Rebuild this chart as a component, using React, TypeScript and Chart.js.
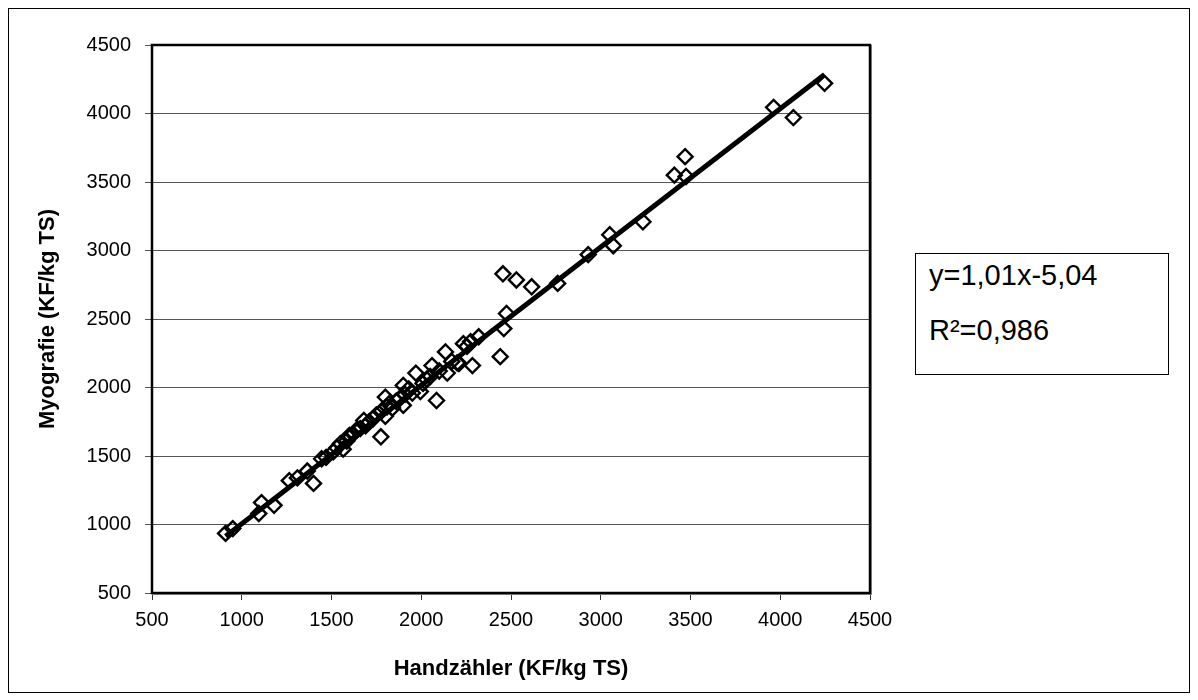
import React, { useEffect, useRef } from "react";
import { Chart, registerables } from "chart.js";

Chart.register(...registerables);

// Hand counter reading (x) and myography reading (y), KF/kg TS
const handzaehler = [
  910, 950, 1095, 1110, 1180, 1265, 1310, 1365, 1400, 1445,
  1470, 1510, 1530, 1550, 1565, 1585, 1600, 1620, 1640, 1660,
  1680, 1690, 1710, 1730, 1750, 1775, 1780, 1800, 1800, 1810,
  1820, 1840, 1860, 1880, 1900, 1900, 1910, 1930, 1950, 1970,
  1995, 2010, 2030, 2050, 2060, 2085, 2100, 2135, 2145, 2170,
  2200, 2210, 2235, 2255, 2275, 2285, 2320, 2440, 2455, 2460,
  2475, 2530, 2615, 2760, 2930, 3050, 3070, 3235, 3410, 3470,
  3475, 3963, 4073, 4247,
];
const myografie = [
  935, 970, 1080, 1160, 1140, 1320, 1340, 1390, 1300, 1480,
  1490, 1530, 1560, 1590, 1550, 1610, 1650, 1660, 1690, 1700,
  1760, 1720, 1750, 1770, 1800, 1640, 1830, 1790, 1930, 1860,
  1880, 1850, 1900, 1920, 2015, 1870, 1950, 1990, 1960, 2105,
  1970, 2030, 2060, 2080, 2160, 1905, 2120, 2260, 2105, 2190,
  2180, 2175, 2320, 2300, 2335, 2160, 2370, 2225, 2830, 2430,
  2540, 2785, 2735, 2760, 2970, 3115, 3035, 3210, 3550, 3685,
  3540, 4045, 3970, 4220,
];

// Linear regression as printed in the equation box
const SLOPE = 1.01;
const INTERCEPT = -5.04;
const R_SQUARED = "0,986";
const SLOPE_TEXT = "1,01";
const INTERCEPT_TEXT = "5,04";

const AXIS_MIN = 500;
const AXIS_MAX = 4500;
const AXIS_STEP = 500;

const X_TITLE = "Handzähler (KF/kg TS)";
const Y_TITLE = "Myografie (KF/kg TS)";

const FONT = "Arial, 'Liberation Sans', Helvetica, sans-serif";

const plainTick = (value: any) => String(value);

const plotFrame = {
  id: "plotFrame",
  afterDatasetsDraw(chart: any) {
    const { ctx, chartArea } = chart;
    const { left, top, right, bottom } = chartArea;
    ctx.save();
    // light shadow line just outside the frame
    ctx.strokeStyle = "#9a9a9a";
    ctx.lineWidth = 1;
    ctx.strokeRect(left + 0.5, top + 0.5, right - left + 1, bottom - top + 1);
    ctx.strokeStyle = "#000";
    ctx.lineWidth = 2.5;
    ctx.strokeRect(left, top, right - left, bottom - top);
    ctx.restore();
  },
};

export default function App() {
  const canvasRef = useRef<HTMLCanvasElement | null>(null);

  useEffect(() => {
    const canvas = canvasRef.current;
    if (!canvas) return;

    const points = handzaehler.map((x, i) => ({ x, y: myografie[i] }));
    const xMin = Math.min(...handzaehler);
    const xMax = Math.max(...handzaehler);
    const trend = [
      { x: xMin, y: SLOPE * xMin + INTERCEPT },
      { x: xMax, y: SLOPE * xMax + INTERCEPT },
    ];

    const chart = new Chart(canvas, {
      type: "scatter",
      data: {
        datasets: [
          {
            type: "line",
            label: "Trend",
            data: trend,
            borderColor: "#000",
            borderWidth: 5,
            pointRadius: 0,
            fill: false,
            order: 1,
          } as any,
          {
            label: "Messwerte",
            data: points,
            pointStyle: "rectRot",
            pointRadius: 7.5,
            pointBorderWidth: 2.4,
            pointBorderColor: "#000",
            pointBackgroundColor: "rgba(255,255,255,0)",
            order: 2,
          } as any,
        ],
      },
      options: {
        animation: false,
        responsive: false,
        devicePixelRatio: 1,
        layout: { padding: { left: 0, top: 37, right: 320, bottom: 5 } },
        plugins: {
          legend: { display: false },
          tooltip: { enabled: false },
        },
        scales: {
          x: {
            type: "linear",
            min: AXIS_MIN,
            max: AXIS_MAX,
            afterFit: (scale: any) => {
              scale.height = 95;
            },
            ticks: {
              stepSize: AXIS_STEP,
              color: "#000",
              font: { family: FONT, size: 20 },
              padding: 8,
              maxRotation: 0,
              callback: plainTick,
            },
            grid: {
              drawOnChartArea: false,
              drawTicks: true,
              tickLength: 7,
              color: "#333",
              lineWidth: 1,
            },
            border: { display: false },
            title: {
              display: true,
              text: X_TITLE,
              color: "#000",
              font: { family: FONT, size: 22, weight: "bold" },
              padding: { top: 0, bottom: 6 },
            },
          },
          y: {
            type: "linear",
            min: AXIS_MIN,
            max: AXIS_MAX,
            afterFit: (scale: any) => {
              scale.width = 144;
            },
            ticks: {
              stepSize: AXIS_STEP,
              color: "#000",
              font: { family: FONT, size: 20 },
              padding: 14,
              callback: plainTick,
            },
            grid: {
              drawOnChartArea: true,
              drawTicks: true,
              tickLength: 7,
              color: "#555",
              lineWidth: 1,
            },
            border: { display: false },
            title: {
              display: true,
              text: Y_TITLE,
              color: "#000",
              font: { family: FONT, size: 22, weight: "bold" },
              padding: { top: 27, bottom: 0 },
            },
          },
        },
      },
      plugins: [plotFrame],
    });

    return () => chart.destroy();
  }, []);

  return (
    <div
      style={{
        position: "relative",
        width: 1182,
        height: 685,
        border: "1px solid #000",
        boxSizing: "border-box",
        background: "#fff",
        fontFamily: FONT,
      }}
    >
      <canvas
        ref={canvasRef}
        width={1182}
        height={685}
        style={{ position: "absolute", left: -1, top: -1, width: 1182, height: 685 }}
      />
      <div
        style={{
          position: "absolute",
          left: 906,
          top: 244,
          width: 254,
          height: 122,
          border: "1.5px solid #000",
          boxSizing: "border-box",
          background: "#fff",
          color: "#000",
          fontSize: 29,
        }}
      >
        <div style={{ position: "absolute", left: 13, top: 4, lineHeight: "34px", whiteSpace: "nowrap" }}>
          {`y=${SLOPE_TEXT}x-${INTERCEPT_TEXT}`}
        </div>
        <div style={{ position: "absolute", left: 13, top: 59, lineHeight: "34px", whiteSpace: "nowrap" }}>
          {`R²=${R_SQUARED}`}
        </div>
      </div>
    </div>
  );
}
